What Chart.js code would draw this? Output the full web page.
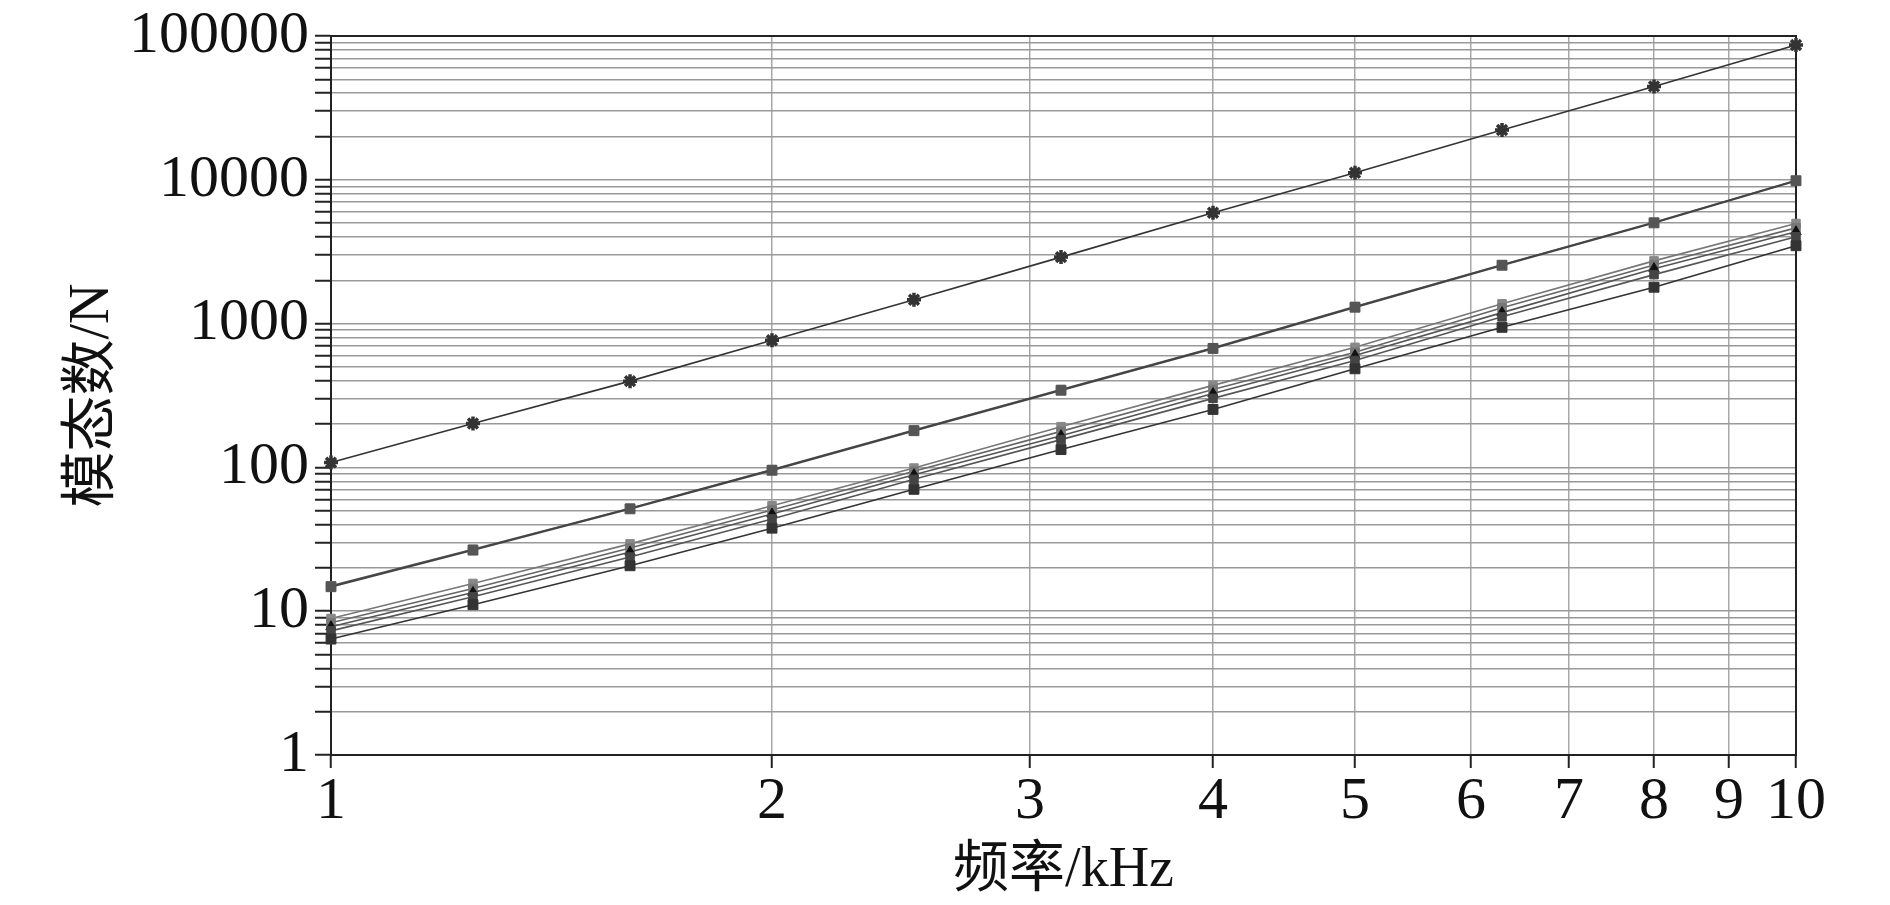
<!DOCTYPE html>
<html>
<head>
<meta charset="utf-8">
<title>模态数-频率</title>
<script src="https://cdn.jsdelivr.net/npm/chart.js@4/dist/chart.umd.min.js"></script>
<style>
  html, body { margin: 0; padding: 0; background: #fff; }
  #wrap { width: 1890px; height: 905px; }
</style>
</head>
<body>
<div id="wrap"><canvas id="modeChart" width="1890" height="905"></canvas></div>
<script>
// 1/3 octave centre frequencies (kHz)
const freq = [1, 1.25, 1.6, 2, 2.5, 3.15, 4, 5, 6.3, 8, 10];

// mode counts
const seriesTop = [108, 202, 398, 766, 1465, 2900, 5900, 11200, 22200, 44600, 86500];
const seriesMidA = [15, 27, 52, 96.7, 182, 348, 680, 1315, 2570, 5070, 9900];
const seriesMidB = [14.8, 26.6, 51.5, 95.5, 180, 344, 672, 1300, 2545, 5020, 9850];
const seriesLow1 = [8.9, 15.6, 29.4, 54.1, 99, 192, 372, 684, 1375, 2730, 4970];
const seriesLow2 = [8.3, 14.4, 27.5, 50.5, 94, 178, 348, 632, 1290, 2560, 4630];
const seriesLow3 = [7.8, 13.5, 25.8, 47.4, 89, 166, 326, 600, 1192, 2410, 4350];
const seriesLow4 = [7.3, 12.6, 23.8, 43.8, 82.6, 156, 302, 554, 1114, 2190, 4020];
const seriesLow5 = [6.4, 11.1, 20.7, 37.8, 70.4, 133, 253, 485, 942, 1790, 3480];

// axis ticks
const xTicks = [1, 2, 3, 4, 5, 6, 7, 8, 9, 10];
const yDecades = [1, 10, 100, 1000, 10000, 100000];
const yTicks = [];
yDecades.slice(0, -1).forEach(d => {
  for (let m = 1; m <= 9; m++) yTicks.push(d * m);
});
yTicks.push(100000);

const serif = "'Liberation Serif', 'Times New Roman', 'Noto Sans CJK SC', serif";

function points(values) {
  return freq.map((f, i) => ({ x: f, y: values[i] }));
}

function makeSet(label, values, lineColor, markColor, style, radius, width) {
  return {
    label: label,
    data: points(values),
    borderColor: lineColor,
    borderWidth: width || 1.6,
    backgroundColor: markColor,
    pointBackgroundColor: markColor,
    pointBorderColor: markColor,
    pointBorderWidth: style === 'star' ? 3.5 : 1,
    pointStyle: style,
    pointRadius: radius,
    tension: 0,
    fill: false,
    clip: 10
  };
}

// Draws the top and right edges of the plot frame
const framePlugin = {
  id: 'frame',
  beforeDatasetsDraw(chart) {
    const a = chart.chartArea;
    const ctx = chart.ctx;
    ctx.save();
    ctx.strokeStyle = '#222';
    ctx.lineWidth = 2;
    ctx.strokeRect(a.left, a.top, a.right - a.left, a.bottom - a.top);
    ctx.restore();
  }
};

document.addEventListener('DOMContentLoaded', function () {
  const ctx = document.getElementById('modeChart');

  new Chart(ctx, {
    type: 'line',
    data: {
      datasets: [
        makeSet('L5', seriesLow5, '#333', '#333', 'rect', 7),
        makeSet('L4', seriesLow4, '#555', '#444', 'rect', 6),
        makeSet('L3', seriesLow3, '#555', '#111', 'triangle', 6),
        makeSet('L2', seriesLow2, '#666', '#777', 'rect', 6),
        makeSet('L1', seriesLow1, '#777', '#888', 'rect', 6),
        makeSet('MB', seriesMidB, '#444', '#555', 'rect', 7, 2),
        makeSet('MA', seriesMidA, '#555', '#a0a0a0', 'rect', 6, 1.6),
        makeSet('Top', seriesTop, '#333', '#333', 'star', 7)
      ]
    },
    options: {
      responsive: false,
      animation: false,
      layout: { padding: { left: 0, top: 29, right: 94, bottom: 0 } },
      plugins: {
        legend: { display: false },
        tooltip: { enabled: false }
      },
      scales: {
        x: {
          type: 'logarithmic',
          min: 1,
          max: 10,
          afterBuildTicks: scale => { scale.ticks = xTicks.map(v => ({ value: v })); },
          afterFit: scale => { scale.height = 150; },
          ticks: {
            autoSkip: false,
            maxRotation: 0,
            padding: 4,
            color: '#111',
            font: { family: serif, size: 60, lineHeight: 1 },
            callback: v => String(v)
          },
          grid: {
            color: '#a8a8a8',
            lineWidth: 1.5,
            tickColor: '#222',
            tickLength: 13,
            tickWidth: 2
          },
          border: { display: true, color: '#222', width: 2 },
          title: {
            display: true,
            text: '频率/kHz',
            color: '#111',
            font: { family: serif, size: 56, lineHeight: 1.2 },
            padding: { top: 2, bottom: 0 }
          }
        },
        y: {
          type: 'logarithmic',
          min: 1,
          max: 100000,
          afterBuildTicks: scale => { scale.ticks = yTicks.map(v => ({ value: v })); },
          afterFit: scale => { scale.width = 331; },
          ticks: {
            autoSkip: false,
            padding: 6,
            color: '#111',
            font: { family: serif, size: 60, lineHeight: 1 },
            callback: v => (yDecades.includes(v) ? String(v) : '')
          },
          grid: {
            color: '#999',
            lineWidth: 1.5,
            tickColor: '#222',
            tickLength: 16,
            tickWidth: 2
          },
          border: { display: true, color: '#222', width: 2 },
          title: {
            display: true,
            text: '模态数/N',
            color: '#111',
            font: { family: serif, size: 56, lineHeight: 1.2 },
            padding: { top: 60, bottom: 0 }
          }
        }
      }
    },
    plugins: [framePlugin]
  });
});
</script>
</body>
</html>
